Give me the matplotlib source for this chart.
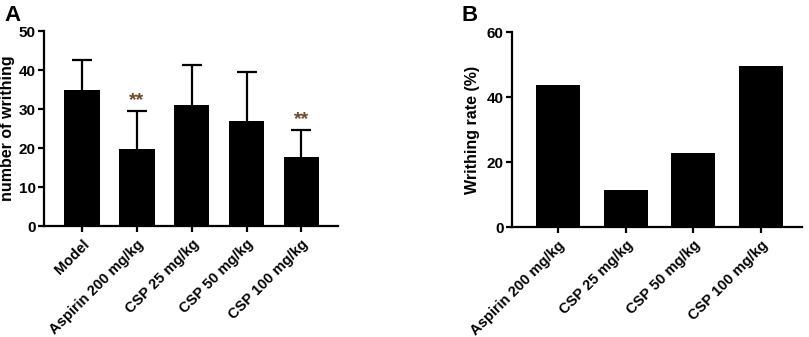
import matplotlib

matplotlib.use("Agg")
import matplotlib.pyplot as plt
import numpy as np

plt.rcParams["font.family"] = ["Liberation Sans", "DejaVu Sans"]
plt.rcParams["font.weight"] = "bold"

# panel A: writhing counts (mean, upper SD)
groups_a = ["Model", "Aspirin 200 mg/kg", "CSP 25 mg/kg", "CSP 50 mg/kg", "CSP 100 mg/kg"]
means_a = [35.0, 19.8, 31.0, 27.0, 17.6]
sd_a = [7.6, 9.6, 10.2, 12.6, 7.0]
stars_a = ["", "**", "", "", "**"]

# panel B: writhing inhibition rate
groups_b = ["Aspirin 200 mg/kg", "CSP 25 mg/kg", "CSP 50 mg/kg", "CSP 100 mg/kg"]
rate_b = [43.6, 11.5, 22.8, 49.6]


def _style(ax):
    for s in ["top", "right"]:
        ax.spines[s].set_visible(False)
    for s in ["left", "bottom"]:
        ax.spines[s].set_linewidth(1.6)
    ax.tick_params(width=1.6, length=4.5)
    ax.tick_params(axis="y", labelsize=11, pad=1.5)
    ax.tick_params(axis="x", labelsize=10.5)
    for lab in ax.get_yticklabels():
        lab.set_fontweight("bold")


fig = plt.figure(figsize=(8.09, 3.37), dpi=100)

ax1 = fig.add_axes([0.0544, 0.329, 0.3636, 0.579])
x = np.arange(len(groups_a))
ax1.bar(x, means_a, width=0.65, color="black")
eb = ax1.errorbar(x, means_a, yerr=[np.zeros(len(sd_a)), sd_a], fmt="none",
                  ecolor="black", elinewidth=1.6, capsize=7, capthick=1.6)
eb[1][0].set_visible(False)  # hide the zero-length lower caps
for xi, m, s, st in zip(x, means_a, sd_a, stars_a):
    if st:
        ax1.text(xi, m + s + 0.5, st, ha="center", va="bottom",
                 fontsize=14, color="#6b4a2a", fontweight="bold")
ax1.set_xlim(-0.69, 4.67)
ax1.set_ylim(0, 50)
ax1.set_yticks([0, 10, 20, 30, 40, 50])
ax1.set_xticks(x)
ax1.set_xticklabels(groups_a, rotation=45, ha="right", rotation_mode="anchor",
                    fontweight="bold")
ax1.set_ylabel("number of writhing", fontsize=11.5, fontweight="bold")
ax1.yaxis.set_label_coords(-0.098, 0.5)
_style(ax1)
fig.text(0.005, 0.985, "A", fontsize=16, fontweight="bold", va="top")

ax2 = fig.add_axes([0.633, 0.326, 0.358, 0.579])
xb = np.arange(len(groups_b))
ax2.bar(xb, rate_b, width=0.65, color="black")
ax2.set_xlim(-0.68, 3.6)
ax2.set_ylim(0, 60)
ax2.set_yticks([0, 20, 40, 60])
ax2.set_xticks(xb)
ax2.set_xticklabels(groups_b, rotation=45, ha="right", rotation_mode="anchor",
                    fontweight="bold")
ax2.set_ylabel("Writhing rate (%)", fontsize=11.5, fontweight="bold")
ax2.yaxis.set_label_coords(-0.11, 0.5)
_style(ax2)
fig.text(0.571, 0.985, "B", fontsize=16, fontweight="bold", va="top")

fig.savefig("out.png", dpi=100)
